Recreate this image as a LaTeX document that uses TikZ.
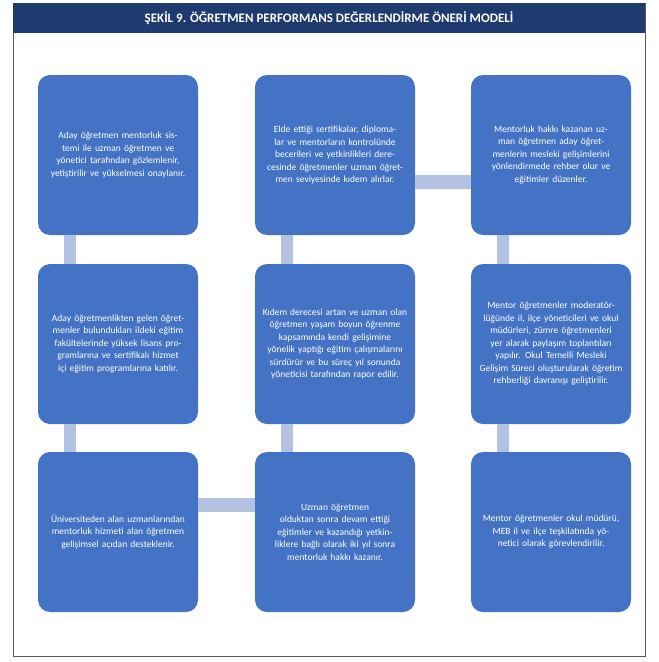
\documentclass[tikz,border=0pt]{standalone}
\usepackage{fontspec}
\setmainfont{Carlito}
\usetikzlibrary{positioning}
\definecolor{boxblue}{HTML}{4472C4}
\definecolor{linkblue}{HTML}{B4C2E2}
\definecolor{titlenavy}{HTML}{1F3A6E}
\begin{document}
\begin{tikzpicture}[x=1pt,y=-1pt,
  stepbox/.style={rectangle, rounded corners=12pt, fill=boxblue, text=white,
    minimum width=160pt, minimum height=160pt, text width=148pt, align=center,
    font=\fontsize{9.5}{12.5}\selectfont, inner sep=4pt},
  vlink/.style={linkblue, line width=12pt},
  hlink/.style={linkblue, line width=14pt}]
  \useasboundingbox (0,0) rectangle (659,662);
  \draw[gray!70!black, line width=1pt] (13,3) rectangle (645,656);
  \fill[titlenavy] (13,3) rectangle (645,33);
  \node[text=white, font=\bfseries\fontsize{13}{15}\selectfont] (title) at (329,18)
    {ŞEKİL 9. ÖĞRETMEN PERFORMANS DEĞERLENDİRME ÖNERİ MODELİ};

  % first row
  \node[stepbox] (a1) at (118,155) {Aday öğretmen mentorluk sistemi ile uzman öğretmen ve yönetici tarafından gözlemlenir, yetiştirilir ve yükselmesi onaylanır.};
  \node[stepbox] (b1) at (335,155) {Elde ettiği sertifikalar, diplomalar ve mentorların kontrolünde becerileri ve yetkinlikleri derecesinde öğretmenler uzman öğretmen seviyesinde kıdem alırlar.};
  \node[stepbox] (c1) at (551,155) {Mentorluk hakkı kazanan uzman öğretmen aday öğretmenlerin mesleki gelişimlerini yönlendirmede rehber olur ve\\ eğitimler düzenler.};
  % second row
  \node[stepbox] (a2) at (118,344) {Aday öğretmenlikten gelen öğretmenler bulundukları ildeki eğitim fakültelerinde yüksek lisans programlarına ve sertifikalı hizmet içi eğitim programlarına katılır.};
  \node[stepbox] (b2) at (335,344) {Kıdem derecesi artan ve uzman olan öğretmen yaşam boyun öğrenme kapsamında kendi gelişimine yönelik yaptığı eğitim çalışmalarını sürdürür ve bu süreç yıl sonunda yöneticisi tarafından rapor edilir.};
  \node[stepbox] (c2) at (551,344) {Mentor öğretmenler moderatörlüğünde il, ilçe yöneticileri ve okul müdürleri, zümre öğretmenleri yer alarak paylaşım toplantıları yapılır. Okul Temelli Mesleki Gelişim Süreci oluşturularak öğretim rehberliği davranışı geliştirilir.};
  % third row
  \node[stepbox] (a3) at (118,532) {Üniversiteden alan uzmanlarından mentorluk hizmeti alan öğretmen gelişimsel açıdan desteklenir.};
  \node[stepbox] (b3) at (335,532) {Uzman öğretmen\\ olduktan sonra devam ettiği eğitimler ve kazandığı yetkinliklere bağlı olarak iki yıl sonra mentorluk hakkı kazanır.};
  \node[stepbox] (c3) at (551,532) {Mentor öğretmenler okul müdürü, MEB il ve ilçe teşkilatında yönetici olarak görevlendirilir.};

  % links
  \foreach \col in {a,b,c}{
    \draw[vlink] ([xshift=-48pt]\col1.south) -- ([xshift=-48pt]\col2.north);
    \draw[vlink] ([xshift=-48pt]\col2.south) -- ([xshift=-48pt]\col3.north);
  }
  \draw[hlink] ([yshift=-27pt]b1.east) -- ([yshift=-27pt]b1.east -| c1.west);
  \draw[hlink] ([yshift=27pt]a3.east) -- ([yshift=27pt]a3.east -| b3.west);
\end{tikzpicture}
\end{document}
